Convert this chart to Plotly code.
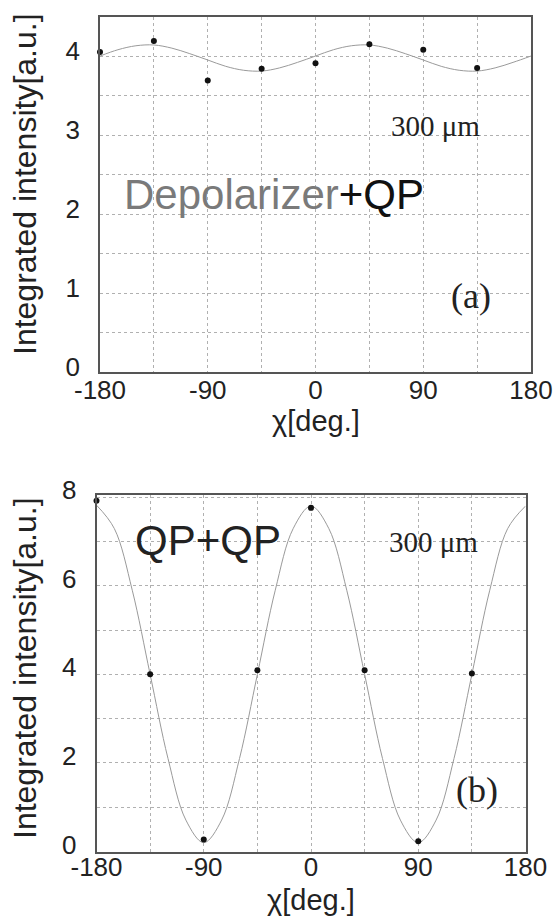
import plotly.graph_objects as go

# ---- data ----
chi_points = [-180, -135, -90, -45, 0, 45, 90, 135]
depol_points = [4.05, 4.19, 3.69, 3.84, 3.91, 4.15, 4.08, 3.85]
qpqp_points = [7.92, 4.00, 0.27, 4.09, 7.76, 4.09, 0.23, 4.02]

chi_curve = [-180, -165, -150, -135, -120, -105, -90, -75, -60, -45, -30, -15,
             0, 15, 30, 45, 60, 75, 90, 105, 120, 135, 150, 165, 180]
depol_curve = [4.00, 4.08, 4.13, 4.14, 4.10, 4.03, 3.95, 3.87, 3.82, 3.81, 3.85, 3.92,
               4.00, 4.08, 4.13, 4.14, 4.10, 4.03, 3.95, 3.87, 3.82, 3.81, 3.85, 3.92, 4.00]
qpqp_curve = [7.82, 7.29, 5.90, 4.00, 2.10, 0.71, 0.20, 0.71, 2.10, 4.00, 5.90, 7.29,
              7.80, 7.29, 5.90, 4.00, 2.10, 0.71, 0.20, 0.71, 2.10, 4.00, 5.90, 7.29, 7.80]

x_ticks = [-180, -90, 0, 90, 180]
y_ticks_a = [0, 1, 2, 3, 4]
y_ticks_b = [0, 2, 4, 6, 8]

W, H = 555, 916
FONT = "Liberation Sans"
GRID = "#b0b0b0"
FRAME = "#555555"

fig = go.Figure()

fig.add_trace(go.Scatter(x=chi_curve, y=depol_curve, mode="lines", line=dict(color="#9a9a9a", width=1, shape="spline"),
                         xaxis="x", yaxis="y", showlegend=False, hoverinfo="skip"))
fig.add_trace(go.Scatter(x=chi_points, y=depol_points, mode="markers", marker=dict(color="#111", size=6),
                         xaxis="x", yaxis="y", showlegend=False, cliponaxis=False))
fig.add_trace(go.Scatter(x=chi_curve, y=qpqp_curve, mode="lines", line=dict(color="#9a9a9a", width=1, shape="spline"),
                         xaxis="x2", yaxis="y2", showlegend=False, hoverinfo="skip"))
fig.add_trace(go.Scatter(x=chi_points, y=qpqp_points, mode="markers", marker=dict(color="#111", size=6),
                         xaxis="x2", yaxis="y2", showlegend=False, cliponaxis=False))


def xaxis(domain, anchor, standoff):
    return dict(domain=domain, anchor=anchor, range=[-180, 180], tickvals=x_ticks,
                ticktext=[str(v) for v in x_ticks], showgrid=True, gridcolor=GRID, griddash="dot",
                gridwidth=1, showline=True, linecolor=FRAME, linewidth=1.5, mirror=True, ticks="",
                zeroline=False, automargin=False, tickfont=dict(family=FONT, size=26, color="#222"),
                ticklabelstandoff=standoff,
                minor=dict(tickvals=[-135, -45, 45, 135], showgrid=True, gridcolor=GRID, griddash="dot", gridwidth=1))


def yaxis(domain, anchor, rng, ticks, minor, shift):
    return dict(domain=domain, anchor=anchor, range=rng, tickvals=ticks,
                ticktext=[str(v) for v in ticks], showgrid=True, gridcolor=GRID, griddash="dot",
                gridwidth=1, showline=True, linecolor=FRAME, linewidth=1.5, mirror=True, ticks="",
                zeroline=False, automargin=False, tickfont=dict(family=FONT, size=26, color="#222"),
                ticklabelstandoff=13, ticklabelshift=shift,
                minor=dict(dtick=minor, showgrid=True, gridcolor=GRID, griddash="dot", gridwidth=1))


fig.update_layout(
    width=W, height=H, margin=dict(l=0, r=0, t=0, b=0, autoexpand=False),
    paper_bgcolor="white", plot_bgcolor="white",
    xaxis=xaxis([100 / W, 531 / W], "y", -6),
    yaxis=yaxis([1 - 372.3 / H, 1 - 17.3 / H], "x", [0, 4.49], y_ticks_a, 0.5, -5),
    xaxis2=xaxis([96.5 / W, 525.5 / W], "y2", -8),
    yaxis2=yaxis([1 - 851.5 / H, 1 - 495 / H], "x2", [0, 8.05], y_ticks_b, 1, -7),
)

ann = []
ann.append(dict(x=-34.7, y=2.25, xref="x", yref="y", showarrow=False,
                text="<span style='color:#7a7a7a'>Depolarizer</span><span style='color:#111'>+QP</span>",
                font=dict(family=FONT, size=42)))
ann.append(dict(x=100.5, y=3.11, xref="x", yref="y", showarrow=False, text="300 μm",
                font=dict(family="Liberation Serif", size=29, color="#222")))
ann.append(dict(x=130, y=0.96, xref="x", yref="y", showarrow=False, text="(a)",
                font=dict(family="Liberation Serif", size=36, color="#222")))
ann.append(dict(x=-86.4, y=7.03, xref="x2", yref="y2", showarrow=False, text="QP+QP",
                font=dict(family=FONT, size=42, color="#222")))
ann.append(dict(x=103.2, y=7.0, xref="x2", yref="y2", showarrow=False, text="300 μm",
                font=dict(family="Liberation Serif", size=29, color="#222")))
ann.append(dict(x=139.3, y=1.39, xref="x2", yref="y2", showarrow=False, text="(b)",
                font=dict(family="Liberation Serif", size=36, color="#222")))
for ycen in [184, 668]:
    ann.append(dict(x=25 / W, y=1 - ycen / H, xref="paper", yref="paper", showarrow=False,
                    xanchor="center", yanchor="middle",
                    text="Integrated intensity[a.u.]", textangle=-90,
                    font=dict(family=FONT, size=32, color="#222")))
for xc, yc in [(315.5, 421), (311, 900)]:
    ann.append(dict(x=xc / W, y=1 - yc / H, xref="paper", yref="paper", showarrow=False,
                    xanchor="center", yanchor="middle",
                    text="χ[deg.]", font=dict(family=FONT, size=29, color="#222")))
fig.update_layout(annotations=ann)

fig.write_html("out.html", config={"displayModeBar": False},
               post_script="document.body.style.margin='0';document.body.style.overflow='hidden';")
